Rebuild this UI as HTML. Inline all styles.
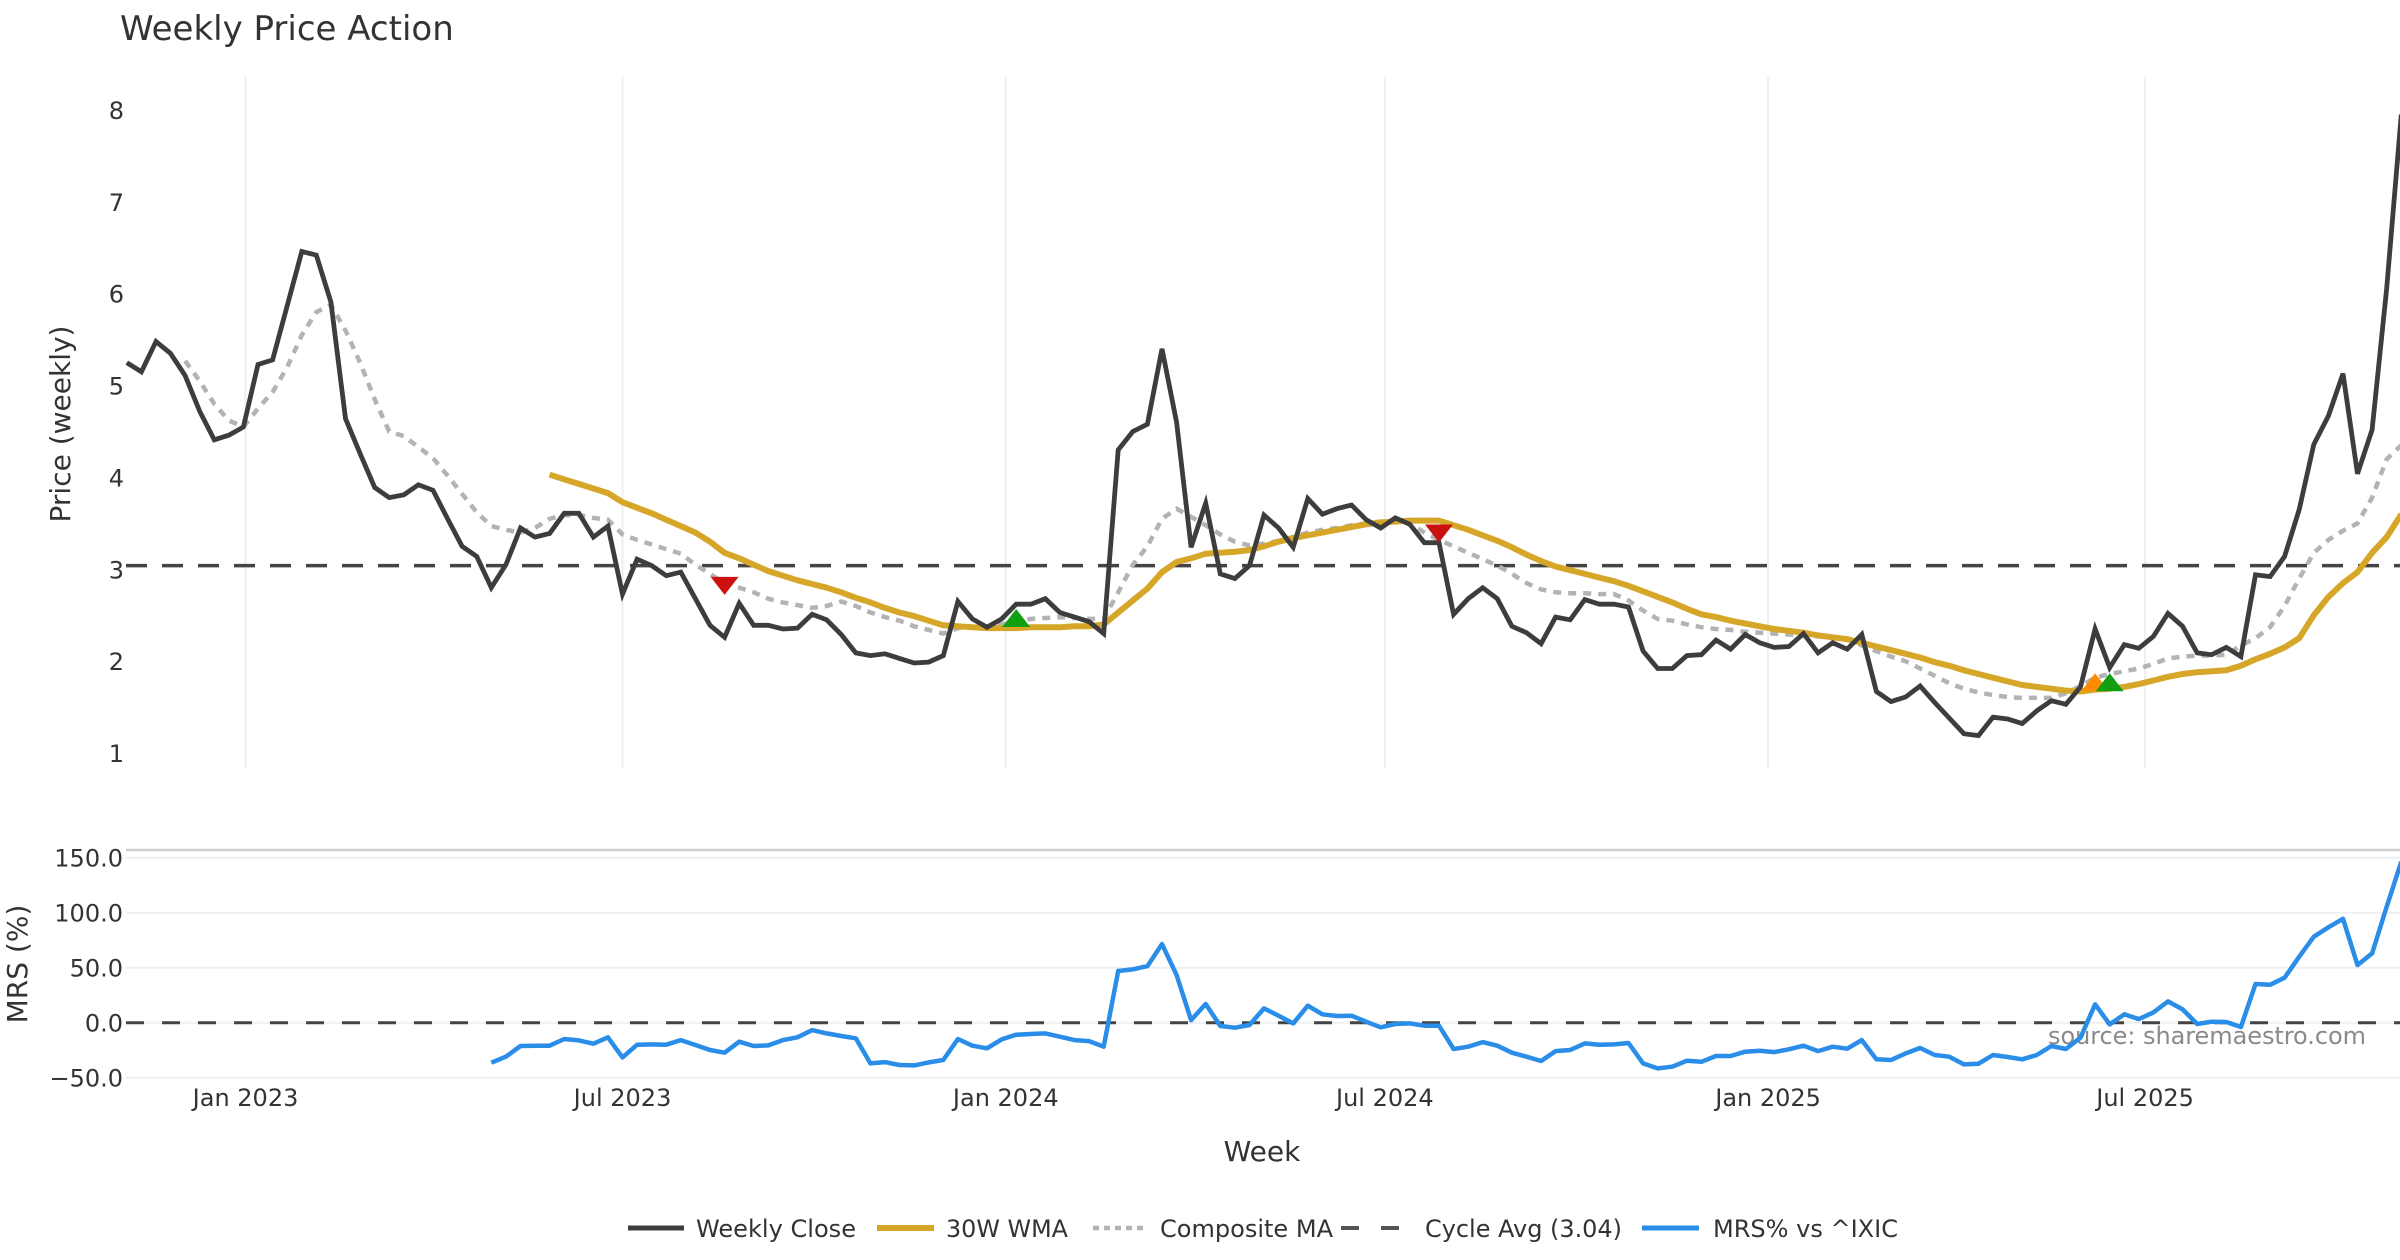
<!DOCTYPE html>
<html>
<head>
<meta charset="utf-8">
<style>
html,body{margin:0;padding:0;background:#fff;}
svg{display:block;font-family:"DejaVu Sans","Liberation Sans",sans-serif;}
</style>
</head>
<body>
<svg id="chart" width="2400" height="1260" viewBox="0 0 2400 1260" xmlns="http://www.w3.org/2000/svg">
  <text x="120" y="40" font-size="34" fill="#333">Weekly Price Action</text>
  <text transform="translate(70,424) rotate(-90)" text-anchor="middle" font-size="28" fill="#333">Price (weekly)</text>
  <text transform="translate(27,964) rotate(-90)" text-anchor="middle" font-size="28" fill="#333">MRS (%)</text>
  <text x="1262" y="1161" text-anchor="middle" font-size="28" fill="#333">Week</text>
  <text x="2366" y="1044" text-anchor="end" font-size="24" fill="#8a8a8a" textLength="318">source: sharemaestro.com</text>
  <g id="grid"></g>
  <g id="axes"></g>
  <g id="series"></g>
  <g id="markers"></g>
  <g id="legend"></g>
</svg>
<script>
// ---- data ----
const startDate = "2022-11-05";
const closeValues = [5.25,5.15,5.48,5.35,5.11,4.72,4.41,4.46,4.55,5.23,5.28,5.87,6.46,6.42,5.91,4.64,4.26,3.89,3.78,3.81,3.92,3.86,3.55,3.25,3.14,2.80,3.05,3.45,3.35,3.39,3.61,3.61,3.35,3.47,2.73,3.11,3.04,2.93,2.97,2.68,2.39,2.26,2.63,2.39,2.39,2.35,2.36,2.51,2.45,2.29,2.09,2.06,2.08,2.03,1.98,1.99,2.06,2.65,2.46,2.37,2.46,2.62,2.62,2.68,2.53,2.48,2.43,2.30,4.30,4.50,4.58,5.40,4.60,3.24,3.72,2.95,2.90,3.04,3.59,3.45,3.24,3.77,3.60,3.66,3.70,3.54,3.45,3.56,3.49,3.29,3.29,2.51,2.68,2.80,2.68,2.38,2.31,2.19,2.48,2.45,2.67,2.62,2.62,2.59,2.11,1.92,1.92,2.06,2.07,2.23,2.13,2.29,2.20,2.15,2.16,2.30,2.09,2.20,2.13,2.29,1.67,1.56,1.61,1.73,1.55,1.38,1.21,1.19,1.39,1.37,1.32,1.46,1.57,1.53,1.72,2.35,1.93,2.18,2.14,2.27,2.52,2.38,2.09,2.07,2.15,2.05,2.94,2.92,3.14,3.65,4.36,4.67,5.13,4.04,4.52,6.06,7.95];
const wmaStart = 29;
const wmaValues = [4.03,3.98,3.93,3.88,3.83,3.73,3.67,3.61,3.54,3.47,3.40,3.30,3.18,3.12,3.05,2.98,2.93,2.88,2.84,2.80,2.75,2.69,2.64,2.58,2.53,2.49,2.44,2.39,2.38,2.37,2.36,2.36,2.36,2.37,2.37,2.37,2.38,2.38,2.40,2.53,2.66,2.79,2.97,3.08,3.12,3.17,3.18,3.19,3.21,3.25,3.30,3.34,3.37,3.40,3.43,3.46,3.49,3.51,3.52,3.53,3.53,3.53,3.48,3.43,3.37,3.31,3.24,3.16,3.09,3.03,2.99,2.95,2.91,2.87,2.82,2.76,2.70,2.64,2.57,2.51,2.48,2.44,2.41,2.38,2.35,2.33,2.31,2.28,2.26,2.24,2.20,2.16,2.12,2.08,2.04,1.99,1.95,1.90,1.86,1.82,1.78,1.74,1.72,1.70,1.68,1.67,1.69,1.70,1.72,1.75,1.79,1.83,1.86,1.88,1.89,1.90,1.95,2.02,2.08,2.15,2.25,2.50,2.70,2.85,2.97,3.18,3.35,3.60];
const compStart = 4;
const compValues = [5.27,5.05,4.80,4.62,4.55,4.75,4.93,5.20,5.55,5.80,5.88,5.60,5.25,4.85,4.50,4.45,4.33,4.21,4.02,3.82,3.62,3.47,3.43,3.40,3.45,3.55,3.59,3.59,3.56,3.54,3.38,3.32,3.27,3.22,3.17,3.05,2.95,2.85,2.80,2.75,2.68,2.64,2.61,2.58,2.60,2.65,2.60,2.53,2.48,2.44,2.38,2.34,2.30,2.36,2.37,2.38,2.40,2.43,2.46,2.47,2.48,2.47,2.46,2.46,2.75,3.05,3.25,3.55,3.66,3.57,3.48,3.38,3.30,3.26,3.28,3.31,3.35,3.40,3.43,3.45,3.48,3.50,3.52,3.52,3.50,3.40,3.32,3.25,3.18,3.11,3.04,2.95,2.85,2.78,2.75,2.74,2.74,2.73,2.73,2.66,2.55,2.46,2.44,2.40,2.37,2.35,2.34,2.32,2.31,2.30,2.29,2.28,2.27,2.25,2.24,2.17,2.11,2.05,2.00,1.92,1.84,1.76,1.70,1.66,1.63,1.61,1.60,1.60,1.60,1.65,1.73,1.82,1.86,1.89,1.92,1.97,2.03,2.05,2.06,2.06,2.07,2.17,2.25,2.37,2.60,2.90,3.18,3.32,3.42,3.50,3.78,4.20,4.35];
const cycleAvg = 3.04;
const mrsStart = 25;
const mrsValues = [-36.4,-30.9,-21.2,-20.9,-20.9,-14.8,-16.1,-19.1,-13.3,-31.5,-20.0,-19.7,-20.0,-15.8,-20.3,-24.8,-27.3,-17.3,-21.2,-20.6,-15.8,-13.3,-6.7,-9.7,-12.1,-14.2,-37.0,-35.8,-38.5,-38.8,-36.1,-33.9,-14.8,-20.9,-23.3,-15.2,-10.9,-10.3,-9.7,-12.7,-15.8,-16.7,-21.8,47.0,48.5,51.5,71.5,43.3,2.4,17.0,-3.0,-4.5,-2.1,13.0,6.4,-0.6,15.5,7.6,6.1,6.4,0.9,-4.2,-1.2,-0.6,-2.7,-2.7,-23.9,-21.8,-17.6,-20.9,-27.3,-30.9,-34.8,-25.8,-24.8,-18.8,-20.0,-19.7,-18.5,-37.0,-41.5,-40.0,-34.5,-35.5,-30.3,-30.3,-26.4,-25.5,-26.7,-24.2,-20.9,-25.8,-21.8,-23.6,-15.8,-33.3,-33.9,-27.9,-23.0,-29.4,-30.9,-37.9,-37.3,-29.4,-31.2,-33.3,-29.4,-21.2,-23.9,-13.6,16.7,-1.5,7.6,3.3,9.4,19.4,12.1,-1.2,0.9,0.6,-3.9,35.2,34.5,40.9,60.0,78.2,86.7,94.5,52.4,63.0,105.5,146.4];
const sellIdx = [41, 90];
const sellVals = [2.82, 3.39];
const buyIdx = [61, 136];
const buyVals = [2.47, 1.77];
const earlyIdx = [135];
const earlyVals = [1.77];
const priceTicks = [1,2,3,4,5,6,7,8];
const mrsTicks = [150,100,50,0,-50];
const mrsTickLabels = ["150.0","100.0","50.0","0.0","\u221250.0"];
const xTickDates = ["2023-01-01","2023-07-01","2024-01-01","2024-07-01","2025-01-01","2025-07-01"];
const xTickLabels = ["Jan 2023","Jul 2023","Jan 2024","Jul 2024","Jan 2025","Jul 2025"];

// ---- scales ----
const X0 = 126.8, WEEK = 14.58;
const xIdx = i => X0 + i * WEEK;
const DAY = 86400000;
const xDate = d => X0 + ((new Date(d + "T00:00:00Z") - new Date(startDate + "T00:00:00Z")) / DAY / 7) * WEEK;
const yP = v => 110 + (8 - v) * 91.86;
const yM = v => 1022.7 - v * 1.1;

const NS = "http://www.w3.org/2000/svg";
function mk(tag, attrs, parent){
  const e = document.createElementNS(NS, tag);
  for (const k in attrs) e.setAttribute(k, attrs[k]);
  parent.appendChild(e);
  return e;
}
const grid = document.getElementById('grid');
const axes = document.getElementById('axes');
const series = document.getElementById('series');
const markers = document.getElementById('markers');
const legend = document.getElementById('legend');

xTickDates.forEach((d, k) => {
  const x = xDate(d);
  const l = mk('line', {x1:x, x2:x, y1:77, y2:768, stroke:'#eceef3', 'stroke-width':2}, grid);
  
  
  const t = mk('text', {x:x, y:1106, 'text-anchor':'middle', 'font-size':24, fill:'#333'}, axes);
  t.textContent = xTickLabels[k];
  
  
});
priceTicks.forEach(v => {
  const t = mk('text', {x:124, y:yP(v) + 9, 'text-anchor':'end', 'font-size':24, fill:'#333'}, axes);
  t.textContent = String(v);
  
  
});
const topLine = mk('line', {x1:126, x2:2400, y1:850, y2:850, stroke:'#cfcfcf', 'stroke-width':2.5}, grid);


mrsTicks.forEach((v, k) => {
  const g = mk('line', {x1:126, x2:2400, y1:yM(v), y2:yM(v), stroke:'#eeeff3', 'stroke-width':2}, grid);
  
  
  const t = mk('text', {x:123, y:yM(v) + 9, 'text-anchor':'end', 'font-size':24, fill:'#333'}, axes);
  t.textContent = mrsTickLabels[k];
  
  
});
const zero = mk('line', {x1:126, x2:2400, y1:yM(0), y2:yM(0), stroke:'#444', 'stroke-width':3, 'stroke-dasharray':'18 18'}, series);



const cyc = mk('line', {x1:126, x2:2400, y1:yP(cycleAvg), y2:yP(cycleAvg), stroke:'#444', 'stroke-width':3.5, 'stroke-dasharray':'21 15'}, series);



function pathFrom(vals, start, ys){
  return vals.map((v, k) => (k ? 'L' : 'M') + xIdx(start + k).toFixed(1) + ' ' + ys(v).toFixed(1)).join(' ');
}
const comp = mk('path', {d:pathFrom(compValues, compStart, yP), fill:'none', stroke:'#b3b3b3', 'stroke-width':4.5, 'stroke-dasharray':'8 7'}, series);


const wma = mk('path', {d:pathFrom(wmaValues, wmaStart, yP), fill:'none', stroke:'#d6a629', 'stroke-width':6, 'stroke-linejoin':'round'}, series);


const close = mk('path', {d:pathFrom(closeValues, 0, yP), fill:'none', stroke:'#3d3d3d', 'stroke-width':4.8, 'stroke-linejoin':'miter'}, series);


const mrs = mk('path', {d:pathFrom(mrsValues, mrsStart, yM), fill:'none', stroke:'#2a8de8', 'stroke-width':4.5, 'stroke-linejoin':'round'}, series);



function tri(i, v, up, color, name){
  const x = xIdx(i), y = yP(v), w = 14, h = 18;
  const pts = up ? `${x-w},${y+h/2} ${x+w},${y+h/2} ${x},${y-h/2}` : `${x-w},${y-h/2} ${x+w},${y-h/2} ${x},${y+h/2}`;
  const p = mk('polygon', {points:pts, fill:color}, markers);
  
  
}
sellIdx.forEach((i, k) => tri(i, sellVals[k], false, '#cc1111', 'sell-signal-marker'));
earlyIdx.forEach((i, k) => tri(i, earlyVals[k], true, '#ff8c00', 'early-buy-signal-marker'));
buyIdx.forEach((i, k) => tri(i, buyVals[k], true, '#12a012', 'buy-signal-marker'));

const legY = 1228;
const items = [
  {x1:628, x2:684, tx:696, len:160, label:'Weekly Close', stroke:'#3d3d3d', dash:null, w:5, name:'legend-entry-weekly-close'},
  {x1:877, x2:934, tx:946, len:122, label:'30W WMA', stroke:'#d6a629', dash:null, w:6, name:'legend-entry-30w-wma'},
  {x1:1093, x2:1145, tx:1160, len:173, label:'Composite MA', stroke:'#b3b3b3', dash:'6 5', w:4.5, name:'legend-entry-composite-ma'},
  {x1:1341, x2:1405, tx:1425, len:197, label:'Cycle Avg (3.04)', stroke:'#555', dash:'18 22', w:4, name:'legend-entry-cycle-avg'},
  {x1:1642, x2:1699, tx:1713, len:185, label:'MRS% vs ^IXIC', stroke:'#2a8de8', dash:null, w:5, name:'legend-entry-mrs'}
];
items.forEach(it => {
  const g = mk('g', {}, legend);
  
  
  const a = {x1:it.x1, x2:it.x2, y1:legY, y2:legY, stroke:it.stroke, 'stroke-width':it.w};
  if (it.dash) a['stroke-dasharray'] = it.dash;
  mk('line', a, g);
  const t = mk('text', {x:it.tx, y:legY + 9, 'font-size':24, fill:'#333', textLength:it.len, lengthAdjust:'spacingAndGlyphs'}, g);
  t.textContent = it.label;
});
</script>
</body>
</html>
